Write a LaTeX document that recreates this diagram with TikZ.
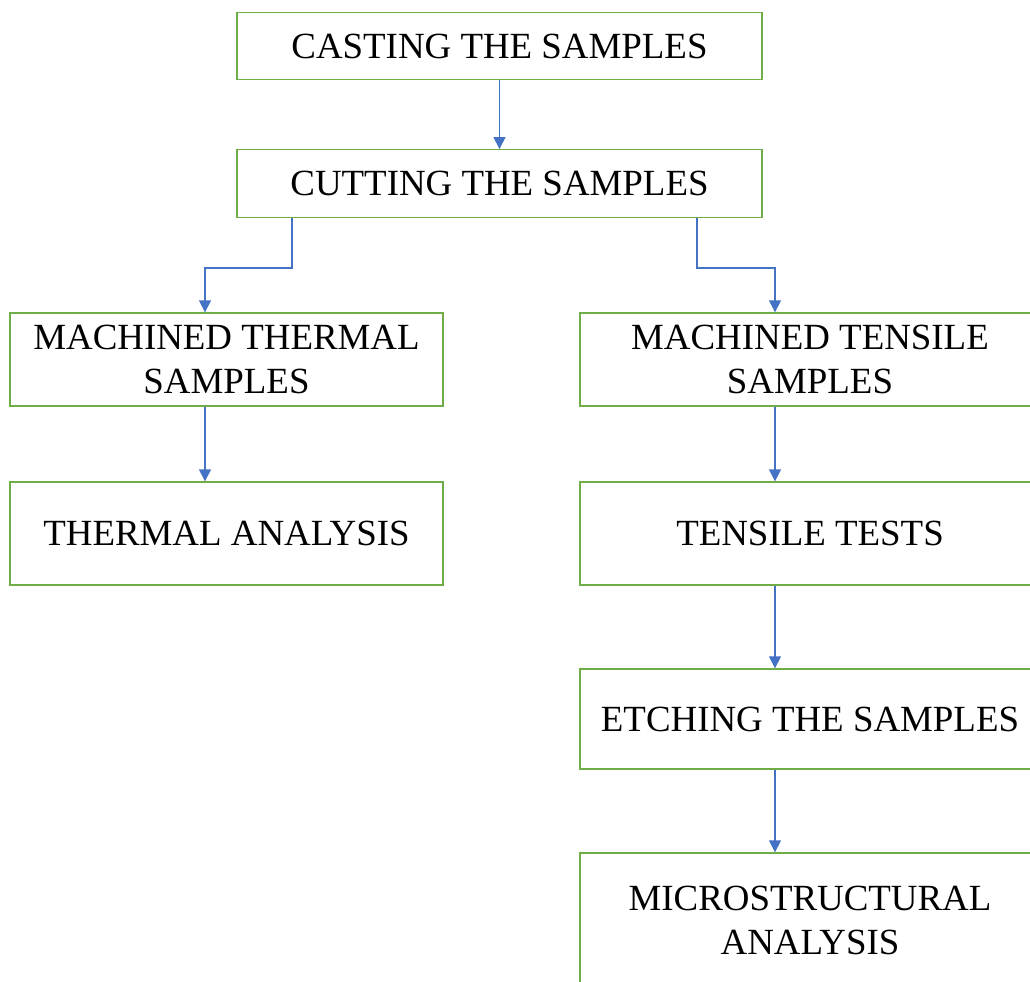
\documentclass[tikz,border=0pt]{standalone}
\usepackage{fontspec}
\setmainfont{Liberation Serif}
\usepackage{tikz}
\usetikzlibrary{arrows.meta}

\definecolor{boxgreen}{HTML}{70AD47}
\definecolor{arrowblue}{HTML}{4472C4}

\begin{document}
\begin{tikzpicture}[x=0.02cm,y=-0.02cm,>={Triangle[width=0.24cm,length=0.24cm]},
  line width=0.8pt,
  main node/.style={rectangle,draw=boxgreen,fill=white,align=center,inner sep=0pt,
    font=\fontsize{21}{25}\selectfont},
  wide node/.style={main node,minimum width=10.5cm,minimum height=1.35cm},
  side node/.style={main node,minimum width=8.66cm},
  far node/.style={main node,minimum width=9.2cm}]
  \useasboundingbox (0,0) rectangle (1030,981);
  \clip (0,0) rectangle (1030,981);

  \node[wide node] (1) at (499.5,46) {CASTING THE SAMPLES};
  \node[wide node] (2) at (499.5,183.5) {CUTTING THE SAMPLES};
  \node[side node,minimum height=1.86cm] (3) at (226.5,359.5) {MACHINED THERMAL\\SAMPLES};
  \node[side node,minimum height=2.06cm] (4) at (226.5,533.5) {THERMAL ANALYSIS};
  \node[far node,minimum height=1.86cm] (5) at (810,359.5) {MACHINED TENSILE\\SAMPLES};
  \node[far node,minimum height=2.06cm] (6) at (810,533.5) {TENSILE TESTS};
  \node[far node,minimum height=2.0cm] (7) at (810,719) {ETCHING THE SAMPLES};
  \node[far node,minimum height=2.68cm] (8) at (810,920) {MICROSTRUCTURAL\\ANALYSIS};

  % arrow columns
  \coordinate (L) at (205,0);
  \coordinate (R) at (775,0);
  \coordinate (l) at (292,0);
  \coordinate (r) at (697,0);

  \path[every edge/.style={draw=arrowblue,->}]
    (1) edge (2)
    (2.south -| l) edge [to path={-- ++(0,50) -| (\tikztotarget)}] (3.north -| L)
    (2.south -| r) edge [to path={-- ++(0,50) -| (\tikztotarget)}] (5.north -| R)
    (3.south -| L) edge (4.north -| L)
    (5.south -| R) edge (6.north -| R)
    (6.south -| R) edge (7.north -| R)
    (7.south -| R) edge (8.north -| R);
\end{tikzpicture}
\end{document}
